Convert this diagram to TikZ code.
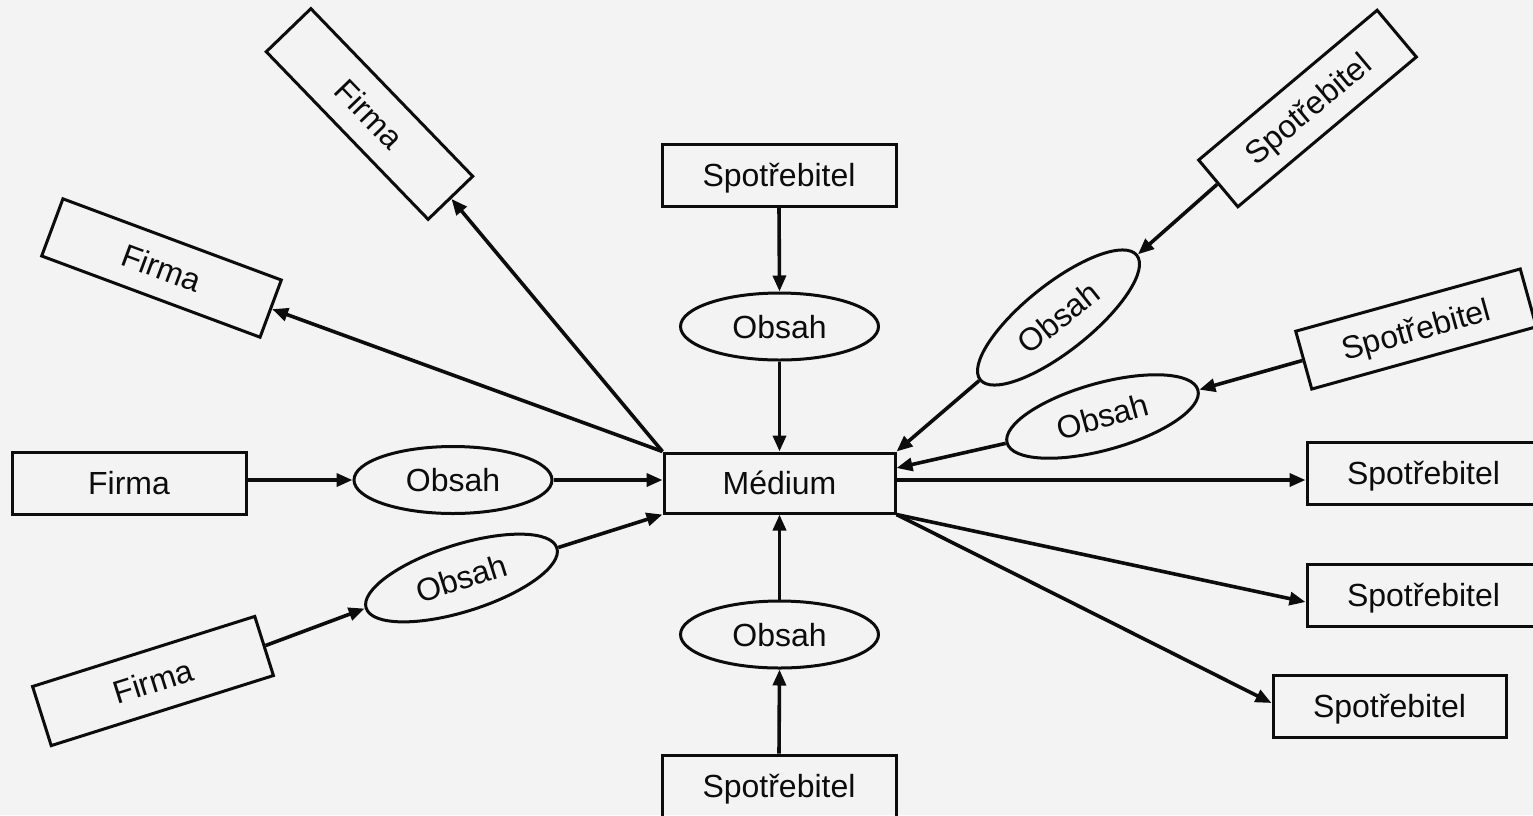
\documentclass[tikz,border=0pt]{standalone}
\usepackage{fontspec}
\setmainfont{Liberation Sans}
\usetikzlibrary{shapes.geometric,arrows.meta}
\definecolor{bgc}{RGB}{243,243,243}
\definecolor{ink}{RGB}{12,12,12}
\begin{document}
\begin{tikzpicture}[x=1pt,y=-1pt,
  txt/.style={text=ink,font=\fontsize{32}{38}\selectfont,text height=23pt,text depth=0pt},
  box/.style={txt,draw=ink,line width=3pt,minimum width=233pt,minimum height=62pt,inner sep=0pt},
  oval/.style={txt,draw=ink,ellipse,line width=3pt,minimum width=198pt,minimum height=67pt,inner sep=0pt},
  arr/.style={draw=ink,line width=3.6pt,-{Triangle[length=16pt,width=13pt]}}]
\useasboundingbox (0,0) rectangle (1533,815);
\fill[bgc] (0,0) rectangle (1533,815);
\clip (0,0) rectangle (1533,815);
% centre
\node[box,minimum width=231pt,minimum height=60pt] (med) at (779.5,483) {Médium};
% top / bottom
\node[box,minimum width=234pt] (spotT) at (779,175) {Spotřebitel};
\node[oval] (obsT) at (779.5,326.5) {Obsah};
\node[oval] (obsBot) at (779.5,634.5) {Obsah};
\node[box,minimum width=234pt] (spotB) at (779,786) {Spotřebitel};
% left
\node[box,minimum width=234pt] (firmaC) at (129,483) {Firma};
\node[oval] (obsL) at (453,480) {Obsah};
\node[box,rotate=-46] (firmaA) at (369.5,114) {Firma};
\node[box,rotate=-20.4,minimum height=61pt] (firmaB) at (161.5,268) {Firma};
\node[box,rotate=17.5] (firmaD) at (153,681) {Firma};
\node[oval,rotate=17.5,minimum width=200pt] (obsC) at (461.5,578) {Obsah};
% right
\node[box,rotate=40,minimum height=61pt] (spotA) at (1307.5,108.5) {Spotřebitel};
\node[oval,rotate=38.5,minimum width=200pt] (obsA) at (1058.5,317.5) {Obsah};
\node[box,rotate=15.5,minimum height=60pt] (spotR) at (1416,329) {Spotřebitel};
\node[oval,rotate=15.5] (obsB) at (1102.5,416.5) {Obsah};
\node[box] (spot1) at (1423.5,473) {Spotřebitel};
\node[box] (spot2) at (1423.5,595) {Spotřebitel};
\node[box] (spot3) at (1389.5,706) {Spotřebitel};
% connectors
\draw[arr] (spotT.south) -- (obsT.north);
\draw[arr] (obsT.south) -- (med.north);
\draw[arr] (spotB.north) -- (obsBot.south);
\draw[arr] (obsBot.north) -- (med.south);
\draw[arr] (obsL.west -| firmaC.east) -- (obsL.west);
\draw[arr] (obsL.east) -- (obsL.east -| med.west);
\draw[arr] (firmaD.east) -- (obsC.west);
\draw[arr] (obsC.east) -- (med.south west);
\draw[arr] (med.north west) -- (firmaB.east);
\draw[arr] (med.north west) -- (firmaA.east);
\draw[arr] (spotA.west) -- (obsA.east);
\draw[arr] (obsA.west) -- (med.north east);
\draw[arr] (spotR.west) -- (obsB.east);
\draw[arr] (obsB.west) -- ([yshift=15pt]med.east);
\draw[arr] ([yshift=3pt]med.east) -- ([yshift=3pt]med.east -| spot1.west);
\draw[arr] (med.south east) -- ([yshift=-7pt]spot2.west);
\draw[arr] (med.south east) -- ([yshift=3pt]spot3.west);
\end{tikzpicture}
\end{document}
